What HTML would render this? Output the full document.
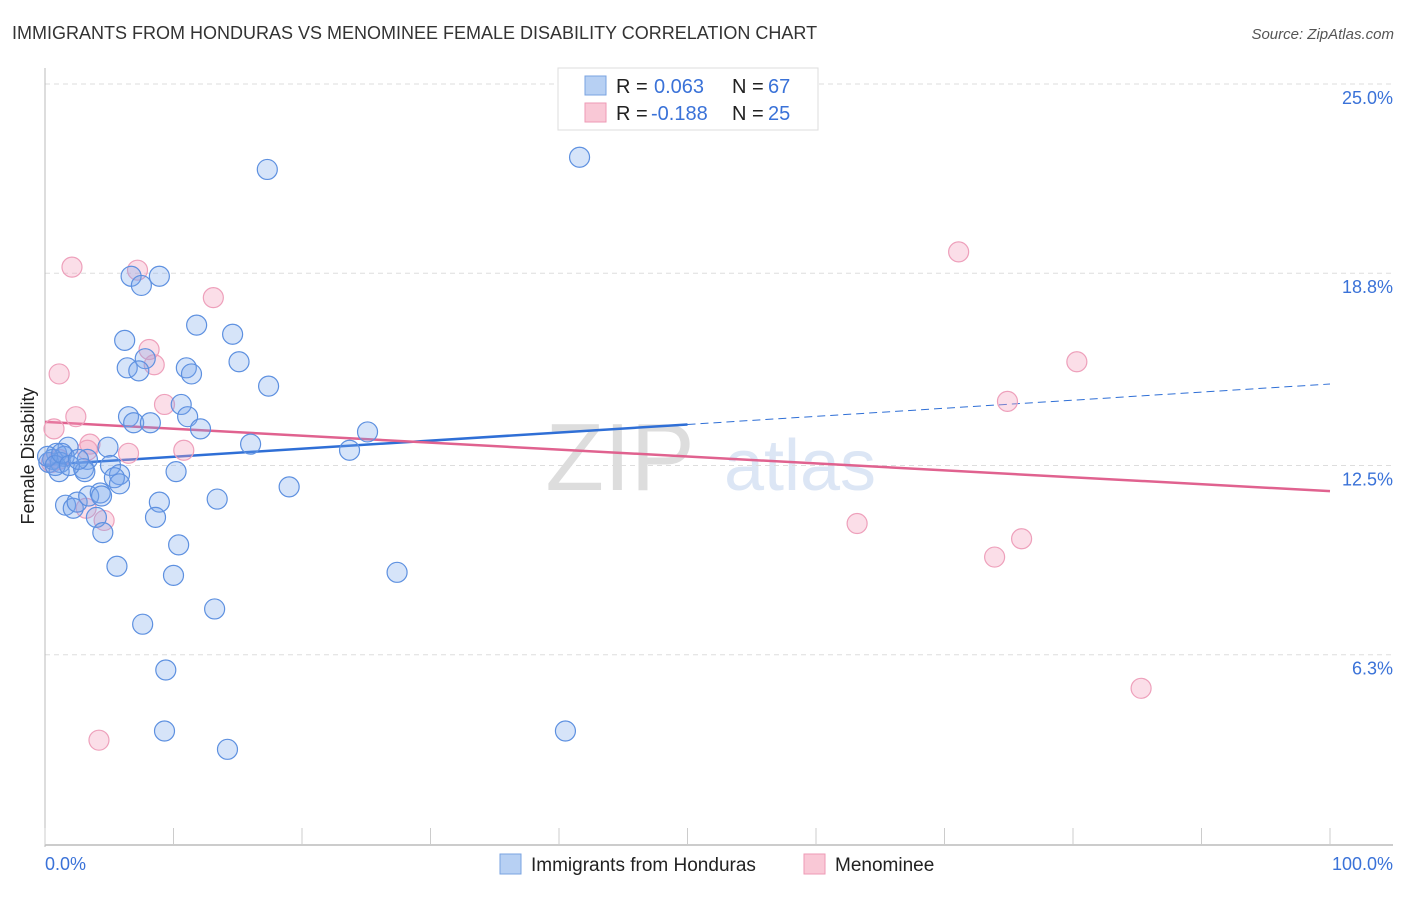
<!DOCTYPE html>
<html><head><meta charset="utf-8"><style>
body{margin:0;background:#fff;font-family:"Liberation Sans",sans-serif}
svg text{font-family:"Liberation Sans",sans-serif}
</style></head><body>
<svg id="chart" width="1406" height="892" xmlns="http://www.w3.org/2000/svg">
<text x="12" y="39" font-size="18" fill="#333">IMMIGRANTS FROM HONDURAS VS MENOMINEE FEMALE DISABILITY CORRELATION CHART</text>
<text x="1394" y="39" font-size="15" fill="#555" font-style="italic" text-anchor="end">Source: ZipAtlas.com</text>
<text x="620" y="490" font-size="96" fill="#ddd" font-family="Liberation Serif" text-anchor="middle">ZIP</text>
<text x="800" y="490" font-size="72" fill="#dce6f5" text-anchor="middle">atlas</text>
<g id="grid"></g>
<g id="axes"></g>
<g id="trend"></g>
<g id="pts"></g>
<text transform="translate(34,456) rotate(-90)" font-size="18" fill="#222" text-anchor="middle">Female Disability</text>
<g>
<rect x="558" y="68" width="260" height="62" fill="#fff" stroke="#ddd"/>
<rect x="585" y="76" width="21" height="19" fill="#b7d0f3" stroke="#7aa3e0"/>
<rect x="585" y="103" width="21" height="19" fill="#f9c8d6" stroke="#ee9ab5"/>
<text x="616" y="93" font-size="20" fill="#222">R =</text><text x="654" y="93" font-size="20" fill="#3a72d8">0.063</text>
<text x="732" y="93" font-size="20" fill="#222">N =</text><text x="768" y="93" font-size="20" fill="#3a72d8">67</text>
<text x="616" y="120" font-size="20" fill="#222">R =</text><text x="651" y="120" font-size="20" fill="#3a72d8">-0.188</text>
<text x="732" y="120" font-size="20" fill="#222">N =</text><text x="768" y="120" font-size="20" fill="#3a72d8">25</text>
</g>
<g>
<rect x="500" y="854" width="21" height="20" fill="#b7d0f3" stroke="#7aa3e0"/>
<text x="531" y="871" font-size="19" fill="#222">Immigrants from Honduras</text>
<rect x="804" y="854" width="21" height="20" fill="#f9c8d6" stroke="#ee9ab5"/>
<text x="835" y="871" font-size="19" fill="#222">Menominee</text>
</g>
</svg>
<script>
const yTicks=[25.0,18.8,12.5,6.3];
const yTickLabels=["25.0%","18.8%","12.5%","6.3%"];
const xTickLabels=["0.0%","100.0%"];
const blueX=[17.3,41.6,6.7,8.9,7.5,11.8,6.2,14.6,7.8,15.1,6.4,7.3,11.0,11.4,17.4,10.6,6.5,11.1,6.9,8.2,12.1,25.1,16.0,23.7,1.8,4.9,0.9,1.5,3.3,0.3,0.6,1.2,3.0,5.1,3.1,5.8,5.4,10.2,1.1,5.8,19.0,1.6,2.2,2.5,3.4,4.3,4.4,13.4,8.9,4.0,8.6,4.5,10.4,5.6,10.0,27.4,13.2,7.6,9.4,9.3,40.5,14.2,0.2,0.8,1.3,1.9,2.6];
const blueY=[22.2,22.6,18.7,18.7,18.4,17.1,16.6,16.8,16.0,15.9,15.7,15.6,15.7,15.5,15.1,14.5,14.1,14.1,13.9,13.9,13.7,13.6,13.2,13.0,13.1,13.1,12.9,12.8,12.7,12.6,12.7,12.6,12.4,12.5,12.3,12.2,12.1,12.3,12.3,11.9,11.8,11.2,11.1,11.3,11.5,11.6,11.5,11.4,11.3,10.8,10.8,10.3,9.9,9.2,8.9,9.0,7.8,7.3,5.8,3.8,3.8,3.2,12.8,12.5,12.9,12.5,12.7];
const pinkX=[2.1,7.2,13.1,8.1,8.5,1.1,80.3,71.1,74.9,9.3,2.4,0.7,3.5,3.3,10.8,6.5,0.5,1.1,3.2,4.6,63.2,73.9,76.0,85.3,4.2];
const pinkY=[19.0,18.9,18.0,16.3,15.8,15.5,15.9,19.5,14.6,14.5,14.1,13.7,13.2,13.0,13.0,12.9,12.6,12.7,11.1,10.7,10.6,9.5,10.1,5.2,3.5];
const blueTrend=[12.52,15.17];
const pinkTrend=[13.93,11.66];
const NS="http://www.w3.org/2000/svg";
const X0=45,X1=1330,Y0=847,PPU=30.52;
function sx(v){return X0+(X1-X0)*v/100;}
function sy(v){return Y0-v*PPU;}
function mk(tag,attrs,parent){const e=document.createElementNS(NS,tag);for(const k in attrs)e.setAttribute(k,attrs[k]);document.getElementById(parent).appendChild(e);return e;}
yTicks.forEach((t,i)=>{
const g=mk('line',{x1:X0,x2:1393,y1:sy(t),y2:sy(t),stroke:'#ddd','stroke-dasharray':'5,4'},'grid');


const l=mk('text',{x:1393,y:sy(t)+20,'font-size':18,fill:'#3a72d8','text-anchor':'end'},'grid');
l.textContent=yTickLabels[i];


});
const ax=mk('line',{x1:X0,x2:X0,y1:68,y2:Y0,stroke:'#bbb'},'axes');


const bx=mk('line',{x1:X0,x2:1393,y1:Y0-2,y2:Y0-2,stroke:'#bbb','stroke-width':1.5},'axes');


for(let i=0;i<=10;i++){
const t=mk('line',{x1:sx(i*10),x2:sx(i*10),y1:828,y2:Y0-2,stroke:'#ccc'},'axes');


}
[[0,'start',45],[100,'end',1393]].forEach((d,i)=>{
const l=mk('text',{x:d[2],y:870,'font-size':18,fill:'#3a72d8','text-anchor':d[1]},'axes');
l.textContent=xTickLabels[i];


});
function trendAt(tr,x){return tr[0]+(tr[1]-tr[0])*x/100;}
const bs=mk('line',{x1:sx(0),y1:sy(trendAt(blueTrend,0)),x2:sx(50),y2:sy(trendAt(blueTrend,50)),stroke:'#2f6fd6','stroke-width':2.5},'trend');


const bd=mk('line',{x1:sx(50),y1:sy(trendAt(blueTrend,50)),x2:sx(100),y2:sy(trendAt(blueTrend,100)),stroke:'#2f6fd6','stroke-width':1,'stroke-dasharray':'8,5'},'trend');


const pl=mk('line',{x1:sx(0),y1:sy(trendAt(pinkTrend,0)),x2:sx(100),y2:sy(trendAt(pinkTrend,100)),stroke:'#e0628f','stroke-width':2.5},'trend');


pinkX.forEach((x,i)=>{
const c=mk('circle',{cx:sx(x),cy:sy(pinkY[i]),r:10,fill:'rgba(244,160,188,0.35)',stroke:'#eea0bb','stroke-width':1.2},'pts');


});
blueX.forEach((x,i)=>{
const c=mk('circle',{cx:sx(x),cy:sy(blueY[i]),r:10,fill:'rgba(120,165,235,0.3)',stroke:'#5d90e0','stroke-width':1.2},'pts');


});
</script>
</body></html>
